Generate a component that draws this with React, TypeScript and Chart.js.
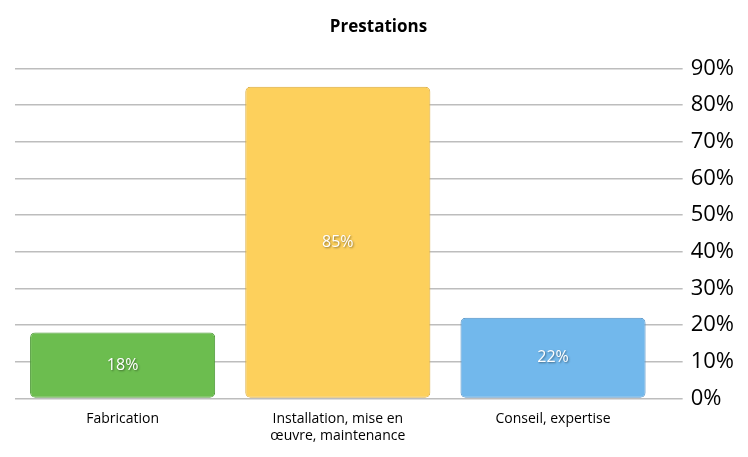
import React, { useEffect, useRef } from "react";
import { Chart, registerables } from "chart.js";

Chart.register(...registerables);

const title = "Prestations";
const categories: (string | string[])[] = [
  "Fabrication",
  ["Installation, mise en", "œuvre, maintenance"],
  "Conseil, expertise",
];
const values = [18, 85, 22];
const barColors = ["#6cbd4f", "#fdd05c", "#72b8ec"];
const barBorders = ["#4f9a38", "#d9a93a", "#4f8fc4"];
const yMax = 90;
const yStep = 10;

const FONT = "'Open Sans', 'DejaVu Sans', sans-serif";

const valueLabels = {
  id: "valueLabels",
  afterDatasetsDraw(chart: any) {
    const ctx = chart.ctx;
    const meta = chart.getDatasetMeta(0);
    ctx.save();
    ctx.font = `16px ${FONT}`;
    ctx.textAlign = "center";
    ctx.textBaseline = "middle";
    meta.data.forEach((bar: any, i: number) => {
      const cy = (bar.y + bar.base) / 2;
      ctx.shadowColor = "rgba(0,0,0,0.45)";
      ctx.shadowBlur = 2;
      ctx.shadowOffsetX = 1;
      ctx.shadowOffsetY = 1;
      ctx.fillStyle = "#ffffff";
      ctx.fillText(values[i] + "%", bar.x, cy);
    });
    ctx.restore();
  },
};

export default function App() {
  const ref = useRef<HTMLCanvasElement>(null);
  useEffect(() => {
    if (!ref.current) return;
    const chart = new Chart(ref.current, {
      type: "bar",
      data: {
        labels: categories,
        datasets: [
          {
            data: values,
            backgroundColor: barColors,
            borderColor: barBorders,
            borderWidth: 1,
            borderRadius: 5,
            borderSkipped: false,
            barPercentage: 0.86,
            categoryPercentage: 1,
          },
        ],
      },
      options: {
        responsive: true,
        maintainAspectRatio: false,
        animation: false,
        layout: { padding: { left: 15, right: 6, top: 0, bottom: 9 } },
        plugins: {
          legend: { display: false },
          tooltip: { enabled: false },
          title: {
            display: true,
            text: title,
            color: "#000",
            font: { family: FONT, size: 17, weight: "bold" },
            padding: { top: 17, bottom: 31 },
          },
        },
        scales: {
          x: {
            grid: { display: false },
            border: { display: false },
            ticks: {
              color: "#000",
              font: { family: FONT, size: 14 },
              padding: 4,
              maxRotation: 0,
            },
          },
          y: {
            position: "right",
            min: 0,
            max: yMax,
            border: { display: false },
            grid: {
              color: "#bdbdbd",
              lineWidth: 1.5,
              tickLength: 22,
            },
            ticks: {
              stepSize: yStep,
              color: "#000",
              padding: 8,
              font: { family: FONT, size: 22 },
              callback: (v: any) => v + "%",
            },
          },
        },
      },
      plugins: [valueLabels],
    });
    return () => chart.destroy();
  }, []);
  return (
    <div style={{ position: "fixed", left: 0, top: 0, width: 748, height: 457, background: "#fff" }}>
      <canvas ref={ref} />
    </div>
  );
}
